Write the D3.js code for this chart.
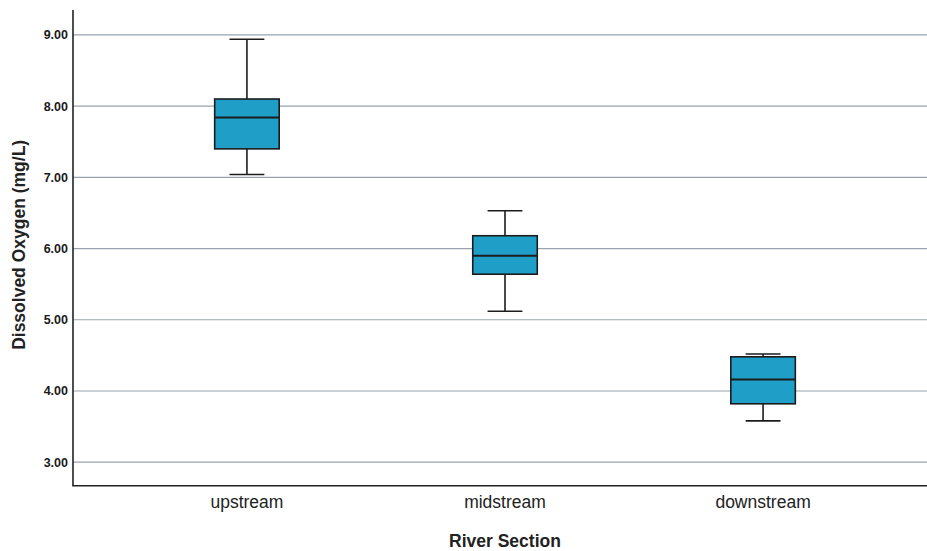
<!DOCTYPE html>
<html>
<head>
<meta charset="utf-8">
<script src="https://cdn.jsdelivr.net/npm/d3@7"></script>
<style>
  html, body { margin: 0; padding: 0; background: #ffffff; }
  svg { display: block; font-family: "Liberation Sans", Arial, sans-serif; }
</style>
</head>
<body>
<svg id="chart" width="927" height="551"></svg>
<script>
// ---- data ----
const categories = ["upstream", "midstream", "downstream"];
const whiskerLow  = [7.04, 5.12, 3.58];
const q1          = [7.40, 5.64, 3.82];
const median      = [7.84, 5.90, 4.16];
const q3          = [8.10, 6.18, 4.48];
const whiskerHigh = [8.94, 6.53, 4.52];
const yTicks = [3, 4, 5, 6, 7, 8, 9];
const xTitle = "River Section";
const yTitle = "Dissolved Oxygen (mg/L)";

// ---- layout ----
const svg = d3.select("#chart");
const mLeft = 73, mRight = 937, mTop = 10, mBottom = 485.7;

const x = d3.scaleBand().domain(categories).range([mLeft, mRight])
  .paddingInner(0).paddingOuter(0.174);
const y = d3.scaleLinear().domain([2.67, 9.35]).range([mBottom, mTop]);

const boxW = x.step() * 0.25;
const capW = boxW * 0.54;

// gridlines
svg.append("g").selectAll("line").data(yTicks).join("line")
  .attr("x1", mLeft).attr("x2", 927)
  .attr("y1", d => y(d)).attr("y2", d => y(d))
  .attr("stroke", "#9aa3ad").attr("stroke-width", 1.2);

// y axis
const yAxis = d3.axisLeft(y).tickValues(yTicks).tickFormat(d3.format(".2f")).tickSize(0).tickPadding(5);
const gy = svg.append("g").attr("transform", `translate(${mLeft},0)`).call(yAxis);
gy.select(".domain").remove();
gy.selectAll("text").attr("font-size", 12.5).attr("font-weight", "bold").attr("fill", "#1a1a1a")
  .attr("font-family", "Liberation Sans, Arial, sans-serif");

svg.append("line").attr("x1", mLeft).attr("x2", mLeft).attr("y1", mTop).attr("y2", mBottom)
  .attr("stroke", "#222").attr("stroke-width", 1.6);

// x axis
const xAxis = d3.axisBottom(x).tickSize(0).tickPadding(10);
const gx = svg.append("g").attr("transform", `translate(0,${mBottom})`).call(xAxis);
gx.select(".domain").remove();
gx.selectAll("text").attr("font-size", 17.5).attr("fill", "#222")
  .attr("font-family", "Liberation Sans, Arial, sans-serif");

svg.append("line").attr("x1", mLeft - 0.8).attr("x2", 927).attr("y1", mBottom).attr("y2", mBottom)
  .attr("stroke", "#222").attr("stroke-width", 1.6);

// boxes
const data = categories.map((c, i) => ({
  c, lo: whiskerLow[i], q1: q1[i], med: median[i], q3: q3[i], hi: whiskerHigh[i]
}));
const g = svg.append("g").selectAll("g").data(data).join("g");
const cx = d => x(d.c) + x.bandwidth() / 2;
const stroke = "#1c1c1c", sw = 1.6;

g.append("line").attr("x1", cx).attr("x2", cx).attr("y1", d => y(d.hi)).attr("y2", d => y(d.q3))
  .attr("stroke", stroke).attr("stroke-width", sw);
g.append("line").attr("x1", cx).attr("x2", cx).attr("y1", d => y(d.q1)).attr("y2", d => y(d.lo))
  .attr("stroke", stroke).attr("stroke-width", sw);
g.append("line").attr("x1", d => cx(d) - capW / 2).attr("x2", d => cx(d) + capW / 2)
  .attr("y1", d => y(d.hi)).attr("y2", d => y(d.hi)).attr("stroke", stroke).attr("stroke-width", sw);
g.append("line").attr("x1", d => cx(d) - capW / 2).attr("x2", d => cx(d) + capW / 2)
  .attr("y1", d => y(d.lo)).attr("y2", d => y(d.lo)).attr("stroke", stroke).attr("stroke-width", sw);
g.append("rect").attr("x", d => cx(d) - boxW / 2).attr("width", boxW)
  .attr("y", d => y(d.q3)).attr("height", d => y(d.q1) - y(d.q3))
  .attr("fill", "#1f9ec8").attr("stroke", stroke).attr("stroke-width", sw);
g.append("line").attr("x1", d => cx(d) - boxW / 2).attr("x2", d => cx(d) + boxW / 2)
  .attr("y1", d => y(d.med)).attr("y2", d => y(d.med)).attr("stroke", stroke).attr("stroke-width", 2);

// titles
svg.append("text").attr("x", x("midstream") + x.bandwidth() / 2).attr("y", 547)
  .attr("text-anchor", "middle").attr("font-size", 17.5).attr("font-weight", "bold").attr("fill", "#222")
  .text(xTitle);
svg.append("text").attr("transform", `translate(25,${(mTop + mBottom) / 2 - 3}) rotate(-90)`)
  .attr("text-anchor", "middle").attr("font-size", 17.5).attr("font-weight", "bold").attr("fill", "#222")
  .text(yTitle);
</script>
</body>
</html>
